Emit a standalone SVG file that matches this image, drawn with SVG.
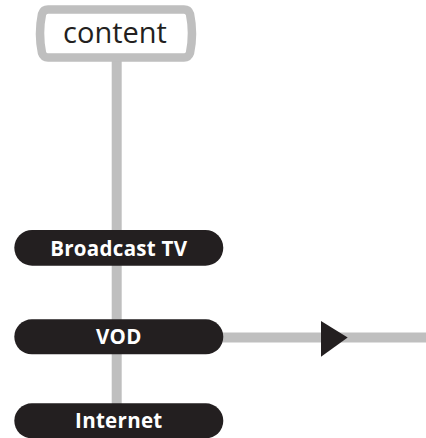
<svg xmlns="http://www.w3.org/2000/svg" width="426" height="438" viewBox="0 0 426 438">
<defs>
<style>
.wire{stroke:#bfbfbf;stroke-width:10;fill:none}
.pill{fill:#231f20}
.pl{font-family:"Open Sans","DejaVu Sans",sans-serif;font-weight:bold;font-size:20.5px;fill:#ffffff;text-anchor:middle;letter-spacing:0.3px}
</style>
</defs>
<rect width="426" height="438" fill="#ffffff"/>
<g id="connectors">
<line class="wire" x1="116.7" y1="58" x2="116.7" y2="232"/>
<line class="wire" x1="116.7" y1="264" x2="116.7" y2="321"/>
<line class="wire" x1="116.7" y1="353" x2="116.7" y2="405"/>
<line class="wire" x1="222" y1="337.5" x2="426" y2="337.5"/>
<polygon points="321,321 347.7,337.5 321,356.7" fill="#231f20"/>
</g>
<g id="content">
<path d="M48,9.5 H184 Q188.5,9.5 190,14 Q194,33.5 190,53 Q188.5,57.5 184,57.5 H48 Q43.5,57.5 42,53 Q38,33.5 42,14 Q43.5,9.5 48,9.5 Z" fill="#ffffff" stroke="#bfbfbf" stroke-width="8.5"/>
<text x="115" y="43.3" font-family="'Open Sans','DejaVu Sans',sans-serif" font-size="29" fill="#231f20" text-anchor="middle">content</text>
</g>
<g id="broadcast-tv">
<rect class="pill" x="14.3" y="230" width="209" height="35.7" rx="17.85"/>
<text class="pl" x="118.8" y="256">Broadcast TV</text>
</g>
<g id="vod">
<rect class="pill" x="14.3" y="319.3" width="209" height="35" rx="17.5"/>
<text class="pl" x="118.8" y="344.3">VOD</text>
</g>
<g id="internet">
<rect class="pill" x="14.3" y="403.3" width="209" height="35" rx="17.5"/>
<text class="pl" x="118.8" y="428.3">Internet</text>
</g>
</svg>
